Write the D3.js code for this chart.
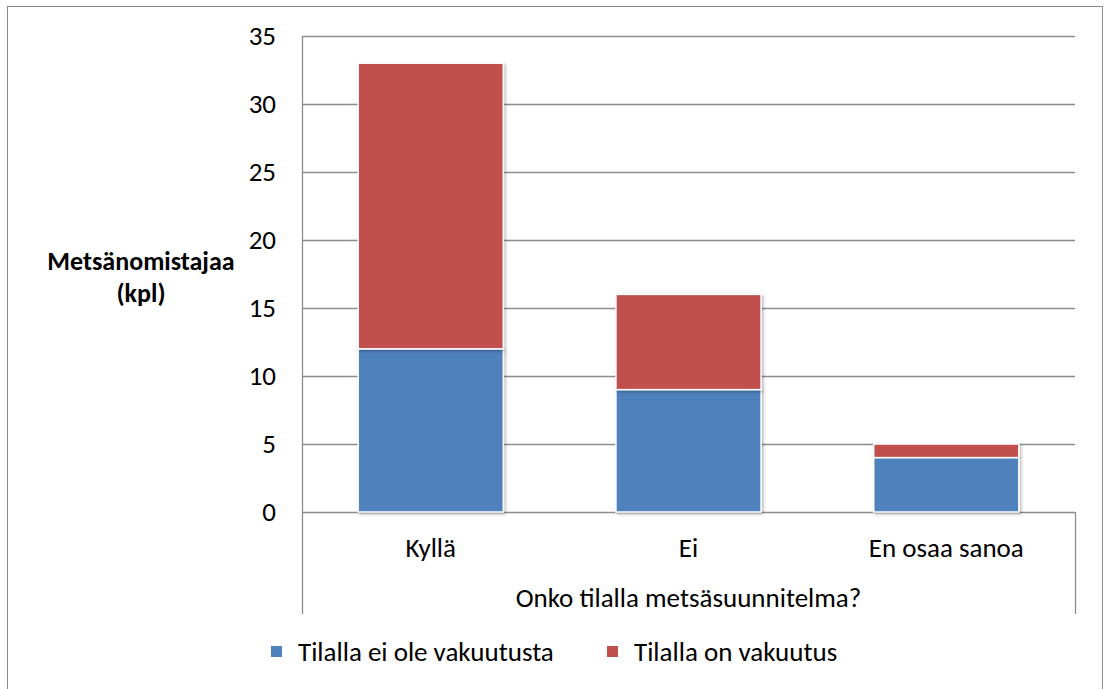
<!DOCTYPE html>
<html>
<head>
<meta charset="utf-8">
<script src="https://cdn.jsdelivr.net/npm/d3@7"></script>
<style>
  body { margin: 0; background: #fff; }
  text { font-family: Carlito, Lato, "Open Sans", sans-serif; fill: #000; }
</style>
</head>
<body>
<script>
var w = 1104;
var h = 689;

// data
var categories = ["Kyllä", "Ei", "En osaa sanoa"];
var eiVakuutusta = [12, 9, 4];
var onVakuutus = [21, 7, 1];
var seriesNames = ["Tilalla ei ole vakuutusta", "Tilalla on vakuutus"];
var yTicks = [0, 5, 10, 15, 20, 25, 30, 35];
var colors = ["#4F81BD", "#C0504D"];

var rows = categories.map(function(c, i) {
  return { cat: c, s0: eiVakuutusta[i], s1: onVakuutus[i] };
});
var stacked = d3.stack().keys(["s0", "s1"])(rows);

var plotLeft = 302, plotRight = 1075, plotTop = 36, plotBottom = 512;

var xScale = d3.scaleBand()
  .domain(categories)
  .range([plotLeft, plotRight])
  .paddingInner(0.437)
  .paddingOuter(0.218);

var yScale = d3.scaleLinear()
  .domain([0, 35])
  .range([plotBottom, plotTop]);

var svg = d3.select("body").append("svg")
  .attr("width", w)
  .attr("height", h);

var defs = svg.append("defs");
var f = defs.append("filter").attr("id", "shadow")
  .attr("x", "-10%").attr("y", "-10%").attr("width", "120%").attr("height", "120%");
f.append("feDropShadow")
  .attr("dx", 1.5).attr("dy", 1.5).attr("stdDeviation", 1.5)
  .attr("flood-color", "#000").attr("flood-opacity", 0.3);

// chart border
svg.append("rect")
  .attr("x", 7.5).attr("y", 6.5)
  .attr("width", 1095).attr("height", 690)
  .attr("fill", "none")
  .attr("stroke", "#8c8c8c")
  .attr("stroke-width", 1);

// gridlines
svg.append("g").selectAll("line")
  .data(yTicks)
  .enter().append("line")
  .attr("x1", plotLeft).attr("x2", plotRight)
  .attr("y1", function(d) { return Math.round(yScale(d)) + 0.5; })
  .attr("y2", function(d) { return Math.round(yScale(d)) + 0.5; })
  .attr("stroke", "#8c8c8c")
  .attr("stroke-width", 1.3);

// y axis line + category box sides
svg.append("line")
  .attr("x1", plotLeft + 0.5).attr("x2", plotLeft + 0.5)
  .attr("y1", plotTop).attr("y2", 614)
  .attr("stroke", "#8c8c8c").attr("stroke-width", 1.3);
svg.append("line")
  .attr("x1", plotRight + 0.5).attr("x2", plotRight + 0.5)
  .attr("y1", plotBottom).attr("y2", 614)
  .attr("stroke", "#8c8c8c").attr("stroke-width", 1.3);

// tick labels
svg.append("g").selectAll("text")
  .data(yTicks)
  .enter().append("text")
  .attr("x", 276)
  .attr("y", function(d) { return yScale(d); })
  .attr("dy", "0.35em")
  .attr("text-anchor", "end")
  .attr("font-size", "27px")
  .text(function(d) { return d; });

// bars
svg.append("g").selectAll("g")
  .data(stacked)
  .enter().append("g")
  .attr("fill", function(d, i) { return colors[i]; })
  .selectAll("rect")
  .data(function(d) { return d; })
  .enter().append("rect")
  .attr("x", function(d) { return xScale(d.data.cat); })
  .attr("y", function(d) { return yScale(d[1]); })
  .attr("width", xScale.bandwidth())
  .attr("height", function(d) { return yScale(d[0]) - yScale(d[1]); })
  .attr("stroke", "#fff")
  .attr("stroke-width", 1.5)
  .attr("filter", "url(#shadow)");

// category labels
svg.append("g").selectAll("text")
  .data(categories)
  .enter().append("text")
  .attr("x", function(d) { return xScale(d) + xScale.bandwidth() / 2; })
  .attr("y", 557)
  .attr("text-anchor", "middle")
  .attr("font-size", "27px")
  .text(function(d) { return d; });

// x axis title
svg.append("text")
  .attr("x", (plotLeft + plotRight) / 2)
  .attr("y", 607)
  .attr("text-anchor", "middle")
  .attr("font-size", "27px")
  .text("Onko tilalla metsäsuunnitelma?");

// y axis title
var yt = svg.append("text")
  .attr("text-anchor", "middle")
  .attr("font-size", "26px")
  .attr("font-weight", "bold");
yt.append("tspan").attr("x", 141).attr("y", 270).text("Metsänomistajaa");
yt.append("tspan").attr("x", 141).attr("y", 302).text("(kpl)");

// legend
var legendX = [271, 607];
var lg = svg.append("g").selectAll("g")
  .data(seriesNames)
  .enter().append("g")
  .attr("transform", function(d, i) { return "translate(" + legendX[i] + ",0)"; });
lg.append("rect")
  .attr("x", 0).attr("y", 646)
  .attr("width", 11).attr("height", 11)
  .attr("fill", function(d, i) { return colors[i]; });
lg.append("text")
  .attr("x", 27).attr("y", 661)
  .attr("font-size", "27px")
  .text(function(d) { return d; });
</script>
</body>
</html>
